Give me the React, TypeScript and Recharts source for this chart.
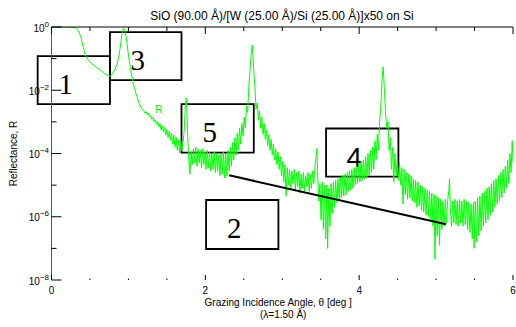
import {
  LineChart,
  Line,
  XAxis,
  YAxis,
  ReferenceArea,
  ReferenceLine,
  ReferenceDot,
} from "recharts";

// [grazing angle (deg), log10 reflectance]
const reflectivity: [number, number][] = [
  [0, 0], [0.1, 0], [0.2, 0], [0.26, -0.01], [0.31, -0.03], [0.35, -0.12],
  [0.38, -0.3], [0.41, -0.62], [0.44, -0.88], [0.47, -1.02], [0.52, -1.15],
  [0.58, -1.27], [0.63, -1.36], [0.68, -1.45], [0.72, -1.52], [0.76, -1.57],
  [0.79, -1.48], [0.82, -1.36], [0.85, -1.18], [0.87, -1.0], [0.89, -0.7],
  [0.905, -0.45], [0.92, -0.12], [0.935, -0.04], [0.95, -0.08], [0.97, -0.3],
  [0.99, -0.7], [1.01, -1.05], [1.03, -1.35], [1.06, -1.75], [1.08, -1.95],
  [1.11, -2.2], [1.14, -2.42], [1.17, -2.57],
  [1.2, -2.64], [1.215, -2.72], [1.23, -2.68], [1.245, -2.78], [1.26, -2.72],
  [1.275, -2.85], [1.29, -2.8], [1.305, -2.92], [1.32, -2.86], [1.335, -3.0],
  [1.35, -2.93], [1.365, -3.08], [1.38, -2.99], [1.395, -3.15], [1.41, -3.05],
  [1.425, -3.25], [1.44, -3.12], [1.455, -3.32], [1.47, -3.18], [1.485, -3.42],
  [1.5, -3.24], [1.515, -3.5], [1.53, -3.3], [1.545, -3.58], [1.56, -3.36],
  [1.575, -3.7], [1.59, -3.42], [1.605, -3.8], [1.62, -3.48], [1.635, -3.9],
  [1.65, -3.55], [1.665, -3.98], [1.68, -3.6], [1.695, -3.92], [1.71, -3.65],
  [1.725, -3.3], [1.74, -2.5], [1.75, -2.25], [1.76, -2.6], [1.77, -3.4],
  [1.785, -4.2], [1.8, -4.65], [1.815, -3.95], [1.83, -4.35], [1.845, -3.85],
  [1.86, -4.3], [1.875, -3.8], [1.89, -4.4], [1.905, -3.85], [1.92, -4.3],
  [1.935, -3.9], [1.95, -4.45], [1.965, -3.85], [1.98, -4.35], [1.995, -3.95],
  [2.01, -4.5], [2.025, -3.9], [2.04, -4.45], [2.055, -3.95], [2.07, -4.55],
  [2.085, -4.0], [2.1, -4.5], [2.115, -3.95], [2.13, -4.6], [2.145, -4.0],
  [2.16, -4.55], [2.175, -4.05], [2.19, -4.7], [2.205, -4.0], [2.22, -4.65],
  [2.235, -3.95], [2.25, -4.78], [2.265, -4.0], [2.28, -4.72], [2.295, -3.9],
  [2.31, -4.55], [2.325, -3.8], [2.34, -4.4], [2.355, -3.65], [2.37, -4.2],
  [2.385, -3.5], [2.4, -4.05], [2.415, -3.35], [2.43, -3.9], [2.445, -3.2],
  [2.46, -3.7], [2.475, -3.05], [2.49, -3.45], [2.505, -2.85], [2.52, -3.2],
  [2.535, -2.5], [2.55, -2.7], [2.565, -1.9], [2.58, -1.4], [2.595, -0.9],
  [2.61, -0.57], [2.62, -0.9], [2.63, -1.4], [2.645, -1.9], [2.66, -2.6],
  [2.675, -2.4], [2.69, -2.95], [2.705, -2.65], [2.72, -3.2], [2.735, -2.85],
  [2.75, -3.4], [2.765, -3.05], [2.78, -3.55], [2.795, -3.25], [2.81, -3.75],
  [2.825, -3.4], [2.84, -3.9], [2.855, -3.55], [2.87, -4.05], [2.885, -3.7],
  [2.9, -4.2], [2.915, -3.85], [2.93, -4.35], [2.945, -3.95], [2.96, -4.5],
  [2.975, -4.1], [2.99, -4.7], [3.005, -4.25], [3.02, -4.9], [3.035, -4.35],
  [3.05, -5.35], [3.065, -4.45], [3.08, -5.0], [3.095, -4.5], [3.11, -5.1],
  [3.125, -4.55], [3.14, -4.95], [3.155, -4.5], [3.17, -5.15], [3.185, -4.6],
  [3.2, -5.05], [3.215, -4.55], [3.23, -5.25], [3.245, -4.65], [3.26, -5.1],
  [3.275, -4.6], [3.29, -5.2], [3.305, -4.7], [3.32, -5.05], [3.335, -4.6],
  [3.35, -5.2], [3.365, -4.65], [3.38, -5.1], [3.395, -4.55], [3.41, -4.95],
  [3.425, -4.4], [3.44, -4.1], [3.45, -3.84], [3.46, -4.6], [3.475, -5.5],
  [3.49, -4.95], [3.505, -6.1], [3.52, -4.9], [3.535, -6.4], [3.55, -5.0],
  [3.565, -6.7], [3.58, -5.0], [3.59, -7.0], [3.605, -5.1], [3.62, -6.3],
  [3.635, -4.95], [3.65, -5.9], [3.665, -4.9], [3.68, -5.7], [3.695, -4.85],
  [3.71, -5.55], [3.725, -4.8], [3.74, -5.5], [3.755, -4.75], [3.77, -5.4],
  [3.785, -4.7], [3.8, -5.35], [3.815, -4.65], [3.83, -5.3], [3.845, -4.6],
  [3.86, -5.2], [3.875, -4.55], [3.89, -5.15], [3.905, -4.5], [3.92, -5.1],
  [3.935, -4.45], [3.95, -5.0], [3.965, -4.4], [3.98, -4.95], [3.995, -4.3],
  [4.01, -4.9], [4.025, -4.25], [4.04, -4.85], [4.055, -4.2], [4.07, -4.8],
  [4.085, -4.1], [4.1, -4.75], [4.115, -4.0], [4.13, -4.7], [4.145, -3.9],
  [4.16, -4.6], [4.175, -3.8], [4.19, -4.5], [4.205, -3.6], [4.22, -4.2],
  [4.235, -3.4], [4.25, -3.9], [4.265, -3.0], [4.28, -2.6], [4.295, -1.8],
  [4.31, -1.26], [4.32, -1.6], [4.33, -2.1], [4.345, -2.8], [4.36, -3.2],
  [4.375, -3.0], [4.39, -3.9], [4.405, -3.5], [4.42, -4.5], [4.435, -3.8],
  [4.45, -4.9], [4.465, -4.0], [4.48, -4.7], [4.495, -4.2], [4.51, -4.85],
  [4.525, -4.3], [4.54, -5.0], [4.555, -4.45], [4.57, -5.6], [4.585, -4.5],
  [4.6, -5.3], [4.615, -4.6], [4.63, -5.45], [4.645, -4.65], [4.66, -5.4],
  [4.675, -4.7], [4.69, -5.5], [4.705, -4.8], [4.72, -5.55], [4.735, -4.85],
  [4.75, -5.7], [4.765, -4.9], [4.78, -5.65], [4.795, -5.0], [4.81, -5.8],
  [4.825, -5.05], [4.84, -5.85], [4.855, -5.1], [4.87, -5.95], [4.885, -5.15],
  [4.9, -6.0], [4.915, -5.2], [4.93, -6.1], [4.945, -5.25], [4.96, -6.3],
  [4.975, -5.3], [4.985, -7.35], [5.0, -5.35], [5.015, -6.6], [5.03, -5.4],
  [5.045, -6.9], [5.06, -5.45], [5.075, -6.4], [5.09, -5.5], [5.105, -6.3],
  [5.12, -5.45], [5.135, -6.2], [5.15, -5.5], [5.165, -5.2], [5.175, -4.8],
  [5.185, -5.7], [5.2, -6.3], [5.215, -5.5], [5.23, -6.2], [5.245, -5.45],
  [5.26, -6.25], [5.275, -5.5], [5.29, -6.3], [5.305, -5.45], [5.32, -6.2],
  [5.335, -5.5], [5.35, -6.3], [5.365, -5.45], [5.38, -6.25], [5.395, -5.5],
  [5.41, -6.4], [5.425, -5.55], [5.44, -6.5], [5.455, -5.6], [5.47, -6.7],
  [5.485, -5.55], [5.495, -7.0], [5.51, -5.5], [5.525, -6.8], [5.54, -5.4],
  [5.555, -6.6], [5.57, -5.35], [5.585, -6.45], [5.6, -5.25], [5.615, -6.3],
  [5.63, -5.2], [5.645, -6.2], [5.66, -5.1], [5.675, -6.1], [5.69, -5.05],
  [5.705, -5.95], [5.72, -4.95], [5.735, -5.85], [5.75, -4.85], [5.765, -5.7],
  [5.78, -4.8], [5.795, -5.6], [5.81, -4.7], [5.825, -5.5], [5.84, -4.6],
  [5.855, -5.4], [5.87, -4.5], [5.885, -5.25], [5.9, -4.4], [5.915, -5.1],
  [5.93, -4.2], [5.945, -4.95], [5.96, -4.0], [5.975, -4.6], [5.99, -3.6],
  [6.0, -4.3],
];

const angleTicks = [0, 0.5, 1, 1.5, 2, 2.5, 3, 3.5, 4, 4.5, 5, 5.5, 6];
const angleLabels = [0, 2, 4, 6];
const decadeTicks = [-8, -7, -6, -5, -4, -3, -2, -1, 0];
const decadeLabels = [0, -2, -4, -6, -8];

// numbered annotation boxes, in angle / log10 R
const boxes = [
  { id: "1", x1: -0.18, x2: 0.76, y1: -0.92, y2: -2.44, serif: true },
  { id: "3", x1: 0.76, x2: 1.69, y1: -0.16, y2: -1.68, serif: true },
  { id: "5", x1: 1.69, x2: 2.63, y1: -2.44, y2: -3.97, serif: true },
  { id: "2", x1: 2.01, x2: 2.95, y1: -5.47, y2: -7.02, serif: true },
  { id: "4", x1: 3.57, x2: 4.51, y1: -3.21, y2: -4.73, serif: false },
];
const trend = [
  { x: 2.31, y: -4.69 },
  { x: 5.13, y: -6.24 },
];

const data = reflectivity.map(([theta, logR]) => ({ theta, logR }));

const SANS = "'Liberation Sans', Arial, sans-serif";
const SERIF = "'Liberation Serif', 'Times New Roman', serif";

function supText(v: number) {
  return v === 0 ? "0" : `\u2212${Math.abs(v)}`;
}

function LeftTick({ x, y, payload }: any) {
  const major = decadeLabels.includes(payload.value);
  return (
    <g>
      <line x1={x} x2={x + (major ? 10 : 5)} y1={y} y2={y} stroke="#000" />
      {major && (
        <text x={x - 2.5} y={y + 4.5} textAnchor="end" fontSize={10} fontFamily={SANS} fill="#000">
          10
          <tspan dy={-5} fontSize={8}>
            {supText(payload.value)}
          </tspan>
        </text>
      )}
    </g>
  );
}

function RightTick({ x, y, payload }: any) {
  const major = decadeLabels.includes(payload.value);
  return <line x1={x} x2={x - (major ? 10 : 7)} y1={y} y2={y} stroke={major ? "#000" : "#777"} />;
}

function BottomTick({ x, y, payload }: any) {
  const major = angleLabels.includes(payload.value);
  return (
    <g>
      <line x1={x} x2={x} y1={y} y2={y - (major ? 5 : 1.5)} stroke="#000" />
      {major && (
        <text x={x} y={y + 14} textAnchor="middle" fontSize={10} fontFamily={SANS} fill="#000">
          {payload.value}
        </text>
      )}
    </g>
  );
}

function TopTick({ x, y, payload }: any) {
  const major = angleLabels.includes(payload.value);
  return <line x1={x} x2={x} y1={y} y2={y + (major ? 7 : 4)} stroke="#000" />;
}

function boxLabel(id: string, serif: boolean) {
  return (props: any) => {
    const vb = props.viewBox;
    return (
      <text
        x={vb.x + vb.width / 2 - 8}
        y={vb.y + vb.height / 2 + 14}
        textAnchor="middle"
        fontSize={serif ? 29 : 28}
        fontFamily={serif ? SERIF : SANS}
        fill="#000"
      >
        {id}
      </text>
    );
  };
}

export default function App() {
  return (
    <div style={{ position: "absolute", left: 0, top: 0, width: 516, height: 327, background: "#fff" }}>
      <LineChart width={516} height={327} data={data} margin={{ top: 27, right: 3, bottom: 17, left: 7.5 }}>
        <XAxis
          dataKey="theta"
          type="number"
          domain={[0, 6]}
          allowDataOverflow
          ticks={angleTicks}
          interval={0}
          height={30}
          tickSize={0}
          tickMargin={0}
          axisLine={false}
          tick={<BottomTick />}
          label={(p: any) => (
            <g fontFamily={SANS} fontSize={10} fill="#000">
              <text x={p.viewBox.x + p.viewBox.width / 2 - 4} y={p.viewBox.y + 26} textAnchor="middle">
                Grazing Incidence Angle, θ [deg ]
              </text>
              <text x={p.viewBox.x + p.viewBox.width / 2 + 1} y={p.viewBox.y + 38} textAnchor="middle">
                (λ=1.50 Å)
              </text>
            </g>
          )}
        />
        <XAxis
          xAxisId="top"
          orientation="top"
          dataKey="theta"
          type="number"
          domain={[0, 6]}
          allowDataOverflow
          ticks={angleTicks}
          interval={0}
          mirror
          tickSize={0}
          tickMargin={0}
          axisLine={{ stroke: "#000" }}
          tick={<TopTick />}
        />
        <YAxis
          type="number"
          domain={[-8, 0]}
          allowDataOverflow
          ticks={decadeTicks}
          interval={0}
          width={44}
          tickSize={0}
          tickMargin={0}
          axisLine={{ stroke: "#555" }}
          tick={<LeftTick />}
          label={(p: any) => (
            <text
              x={p.viewBox.x + 9}
              y={p.viewBox.y + p.viewBox.height / 2}
              transform={`rotate(-90, ${p.viewBox.x + 9}, ${p.viewBox.y + p.viewBox.height / 2})`}
              textAnchor="middle"
              fontFamily={SANS}
              fontSize={10}
              fill="#000"
            >
              Reflectance, R
            </text>
          )}
        />
        <YAxis
          yAxisId="right"
          orientation="right"
          type="number"
          domain={[-8, 0]}
          allowDataOverflow
          ticks={decadeTicks}
          interval={0}
          mirror
          width={0}
          tickSize={0}
          tickMargin={0}
          axisLine={{ stroke: "#555" }}
          tick={<RightTick />}
        />
        <Line
          type="linear"
          dataKey="logR"
          stroke="#00ff00"
          strokeWidth={1}
          dot={false}
          isAnimationActive={false}
        />
        <ReferenceDot
          x={1.396}
          y={-2.61}
          r={0}
          ifOverflow="visible"
          label={{ value: "R", position: "center", fill: "#00ee00", fontSize: 10, fontFamily: SANS }}
        />
        {boxes.map((b) => (
          <ReferenceArea
            key={b.id}
            x1={b.x1}
            x2={b.x2}
            y1={b.y1}
            y2={b.y2}
            ifOverflow="visible"
            fill="none"
            fillOpacity={0}
            stroke="#000"
            strokeWidth={1.8}
            label={boxLabel(b.id, b.serif)}
          />
        ))}
        <ReferenceLine segment={trend} ifOverflow="visible" stroke="#000" strokeWidth={2} />
      </LineChart>
      <div
        style={{
          position: "absolute",
          left: 51,
          top: 10,
          width: 462,
          textAlign: "center",
          fontFamily: SANS,
          fontSize: 12,
          lineHeight: "12px",
          color: "#000",
          whiteSpace: "nowrap",
        }}
      >
        SiO (90.00 Å)/[W (25.00 Å)/Si (25.00 Å)]x50 on Si
      </div>
    </div>
  );
}
